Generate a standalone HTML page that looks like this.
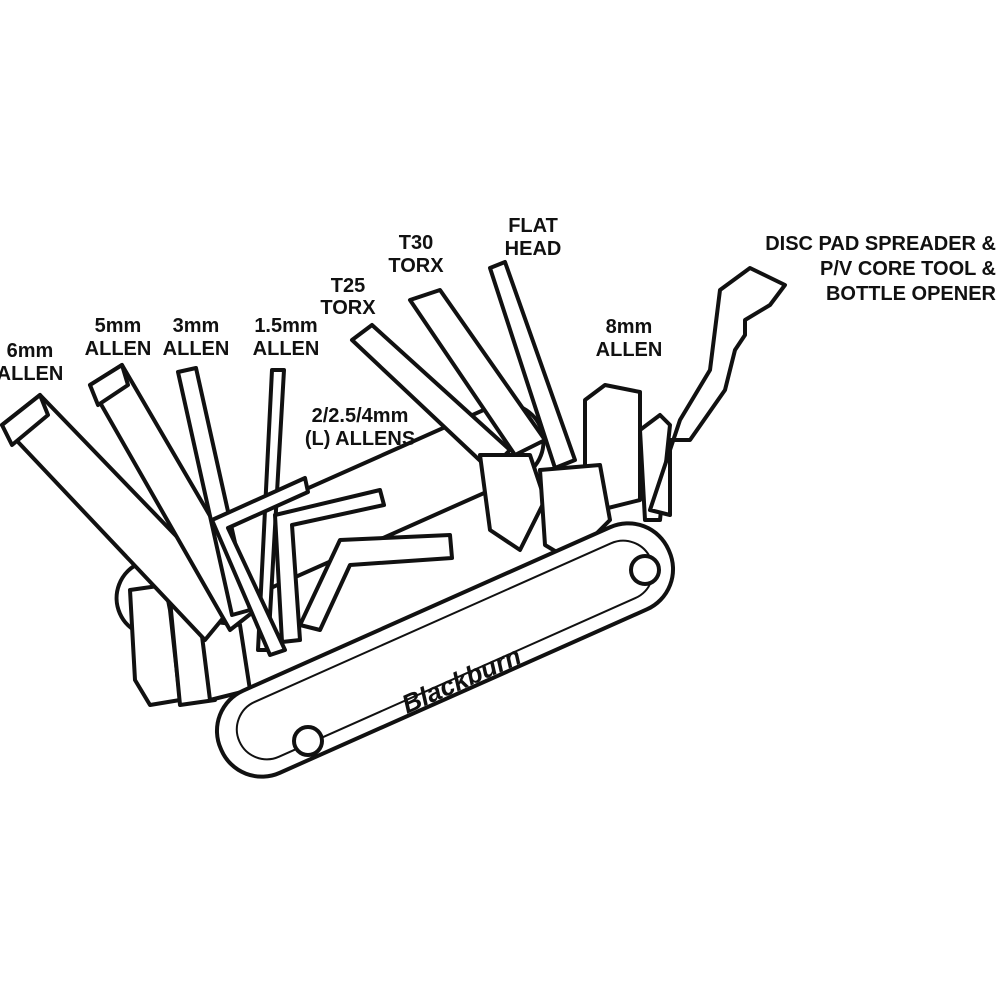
<!DOCTYPE html>
<html><head><meta charset="utf-8"><style>
html,body{margin:0;padding:0;background:#fff}
svg{display:block}
text{font-family:"Liberation Sans Narrow","Liberation Sans",sans-serif;font-weight:600;font-size:20px;fill:#111}
</style></head><body>
<svg width="1000" height="1000" viewBox="0 0 1000 1000" xmlns="http://www.w3.org/2000/svg">
<g fill="#fff" stroke="#111" stroke-width="4" stroke-linejoin="round" stroke-linecap="round">
<rect x="-230" y="-38" width="460" height="76" rx="38" transform="translate(330,520) rotate(-24)"/>
<path d="M130,590 L165,585 L170,610 L180,700 L150,705 L135,680 Z"/>
<path d="M170,600 L205,605 L215,700 L180,705 Z"/>
<path d="M200,620 L240,625 L250,690 L210,700 Z"/>
<!-- 6mm -->
<path d="M2,425 L40,395 L238,600 L205,640 Z"/>
<path d="M2,425 L40,395 L48,415 L12,445 Z"/>
<!-- 5mm -->
<path d="M90,385 L122,365 L262,605 L230,630 Z"/>
<path d="M90,385 L122,365 L128,385 L98,405 Z"/>
<path d="M178,372 L196,368 L250,610 L232,615 Z"/>
<path d="M272,370 L284,370 L268,650 L258,650 Z"/>
<path d="M212,520 L305,478 L308,492 L228,528 L285,650 L270,655 Z"/>
<path d="M275,515 L380,490 L384,505 L292,525 L300,640 L282,642 Z"/>
<path d="M340,540 L450,535 L452,558 L350,565 L320,630 L300,625 Z"/>
<path d="M352,340 L372,325 L510,450 L490,470 Z"/>
<path d="M410,300 L440,290 L545,440 L515,455 Z"/>
<path d="M490,268 L505,262 L575,460 L555,468 Z"/>
<path d="M585,400 L605,385 L640,392 L640,500 L600,510 L585,495 Z"/>
<path d="M640,430 L660,415 L670,425 L660,520 L645,520 Z"/>
<path d="M720,290 L750,268 L785,285 L770,305 L745,320 L745,335 L735,350 L725,390 L690,440 L670,440 L670,515 L650,510 L680,420 L710,370 Z"/>
<path d="M480,455 L530,455 L545,500 L520,550 L490,530 Z"/>
<path d="M540,470 L600,465 L610,520 L570,560 L545,545 Z"/>
<rect x="-245" y="-45" width="490" height="90" rx="44" transform="translate(445,650) rotate(-24)"/>
<rect x="-225" y="-30" width="450" height="60" rx="30" transform="translate(445,650) rotate(-24)" stroke-width="2"/>
<circle cx="308" cy="741" r="14"/>
<circle cx="645" cy="570" r="14"/>
</g>
<text x="465" y="688" transform="rotate(-24 465 688)" style="font-style:italic;font-size:26px;fill:#111" text-anchor="middle">Blackburn</text>
<g text-anchor="middle">
<text x="30" y="357">6mm</text><text x="30" y="380">ALLEN</text>
<text x="118" y="332">5mm</text><text x="118" y="355">ALLEN</text>
<text x="196" y="332">3mm</text><text x="196" y="355">ALLEN</text>
<text x="286" y="332">1.5mm</text><text x="286" y="355">ALLEN</text>
<text x="360" y="422">2/2.5/4mm</text><text x="360" y="445">(L) ALLENS</text>
<text x="348" y="292">T25</text><text x="348" y="314">TORX</text>
<text x="416" y="249">T30</text><text x="416" y="272">TORX</text>
<text x="533" y="232">FLAT</text><text x="533" y="255">HEAD</text>
<text x="629" y="333">8mm</text><text x="629" y="356">ALLEN</text>
</g>
<g text-anchor="end">
<text x="996" y="250">DISC PAD SPREADER &amp;</text>
<text x="996" y="275">P/V CORE TOOL &amp;</text>
<text x="996" y="300">BOTTLE OPENER</text>
</g>
</svg>
</body></html>
